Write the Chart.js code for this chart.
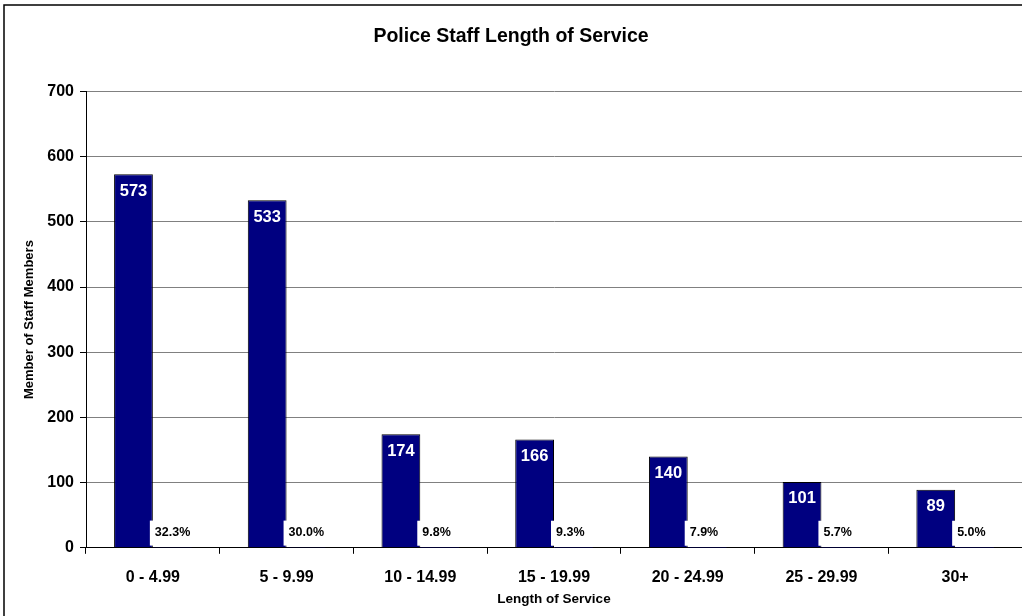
<!DOCTYPE html>
<html>
<head>
<meta charset="utf-8">
<script src="https://cdn.jsdelivr.net/npm/chart.js@4"></script>
<style>
  html, body { margin: 0; padding: 0; background: #fff; }
  #wrap { width: 1022px; height: 616px; }
</style>
</head>
<body>
<div id="wrap"><canvas id="serviceChart" width="1022" height="616"></canvas></div>
<script>
// data
var categories = ['0 - 4.99', '5 - 9.99', '10 - 14.99', '15 - 19.99', '20 - 24.99', '25 - 29.99', '30+'];
var staffCounts = [573, 533, 174, 166, 140, 101, 89];
var staffShares = [32.3, 30.0, 9.8, 9.3, 7.9, 5.7, 5.0];
var yTicks = [0, 100, 200, 300, 400, 500, 600, 700];
var xTitle = 'Length of Service';

var FONT = '"Liberation Sans", Arial, sans-serif';

// frame round the whole picture
var framePlugin = {
  id: 'frame',
  beforeDraw: function (chart) {
    var ctx = chart.ctx;
    ctx.save();
    ctx.fillStyle = '#fff';
    ctx.fillRect(0, 0, chart.width, chart.height);
    ctx.strokeStyle = '#000';
    ctx.lineWidth = 1.5;
    ctx.strokeRect(4, 5, chart.width + 20, chart.height + 20);
    ctx.restore();
  }
};

// numbers in the bars, percentages beside them, x axis title
var labelPlugin = {
  id: 'barLabels',
  afterDatasetsDraw: function (chart) {
    var ctx = chart.ctx;
    ctx.save();
    ctx.font = 'bold 16.5px ' + FONT;
    ctx.textAlign = 'center';
    ctx.textBaseline = 'middle';
    ctx.fillStyle = '#fff';
    chart.getDatasetMeta(0).data.forEach(function (bar, i) {
      ctx.fillText(String(staffCounts[i]), bar.x, bar.y + 17);
    });
    ctx.font = 'bold 12.5px ' + FONT;
    ctx.textAlign = 'left';
    chart.getDatasetMeta(1).data.forEach(function (bar, i) {
      var txt = staffShares[i].toFixed(1) + '%';
      var left = bar.x - bar.width / 2 - 3;
      var w = ctx.measureText(txt).width + 6;
      ctx.fillStyle = '#fff';
      ctx.fillRect(left, bar.y - 27, w, 25);
      ctx.fillStyle = '#000';
      ctx.fillText(txt, left + 5, bar.y - 15);
    });
    var area = chart.chartArea;
    ctx.font = 'bold 13.5px ' + FONT;
    ctx.textAlign = 'center';
    ctx.fillStyle = '#000';
    ctx.fillText(xTitle, (area.left + area.right) / 2, 599);
    ctx.restore();
  }
};

new Chart(document.getElementById('serviceChart').getContext('2d'), {
  type: 'bar',
  data: {
    labels: categories,
    datasets: [{
      label: 'Staff',
      data: staffCounts,
      backgroundColor: '#000080',
      borderColor: '#000',
      borderWidth: 1,
      categoryPercentage: 0.58,
      barPercentage: 1
    }, {
      label: 'Share',
      data: staffShares.map(function (v) { return v / 100; }),
      backgroundColor: '#000080',
      borderWidth: 0,
      categoryPercentage: 0.58,
      barPercentage: 1
    }]
  },
  plugins: [framePlugin, labelPlugin],
  options: {
    responsive: false,
    animation: false,
    layout: { padding: { left: 0, right: 0, top: 10, bottom: 15 } },
    plugins: {
      legend: { display: false },
      tooltip: { enabled: false },
      title: {
        display: true,
        text: 'Police Staff Length of Service',
        color: '#000',
        font: { family: FONT, size: 19.5, weight: 'bold' },
        padding: { top: 15, bottom: 43 }
      }
    },
    scales: {
      x: {
        grid: { offset: true, drawOnChartArea: false, tickLength: 6, tickColor: '#000' },
        border: { color: '#000', width: 1 },
        ticks: { color: '#000', font: { family: FONT, size: 16, weight: 'bold' }, padding: 14 }
      },
      y: {
        min: 0,
        max: 700,
        afterBuildTicks: function (axis) {
          axis.ticks = yTicks.map(function (v) { return { value: v }; });
        },
        afterFit: function (axis) { axis.width = 86; },
        grid: { color: '#808080', tickColor: '#000', tickLength: 6 },
        border: { color: '#000', width: 1 },
        ticks: { color: '#000', font: { family: FONT, size: 16, weight: 'bold' }, padding: 6 },
        title: {
          display: true,
          text: 'Member of Staff Members',
          color: '#000',
          font: { family: FONT, size: 13, weight: 'bold' },
          padding: { top: 22, bottom: 0 }
        }
      }
    }
  }
});
</script>
</body>
</html>
